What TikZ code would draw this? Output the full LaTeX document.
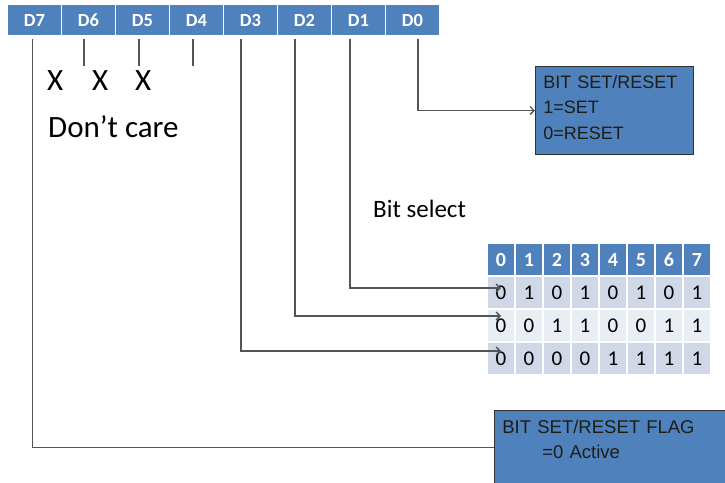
\documentclass[tikz,border=0pt]{standalone}
\usepackage{fontspec}
\setmainfont{Carlito}[Numbers=Lining]
\newfontfamily\boxfont{Liberation Sans}
\usepackage{xcolor}
\usetikzlibrary{positioning, arrows.meta, calc}

\definecolor{hdrblue}{HTML}{4F81BD}
\definecolor{rowdark}{HTML}{D0D8E8}
\definecolor{rowlight}{HTML}{E9EDF4}
\definecolor{wiregray}{HTML}{555555}
\definecolor{boxtext}{HTML}{1E1E14}

\begin{document}
\begin{tikzpicture}[x=1pt, y=-1pt,
    bitcell/.style={fill=hdrblue, draw=white, line width=1.5pt, minimum width=54pt, minimum height=32pt,
      inner sep=0pt, outer sep=0pt, text=white, text height=12pt, text depth=0pt,
      font=\fontsize{18.5}{20}\selectfont\bfseries},
    tcell/.style={draw=white, line width=1.5pt, minimum width=28pt, minimum height=33pt,
      inner sep=0pt, outer sep=0pt, text height=13.5pt, text depth=0pt, font=\fontsize{21}{22}\selectfont},
    infobox/.style={fill=hdrblue, draw=black!80, line width=0.8pt, align=left, inner xsep=8pt,
      text=boxtext, font=\boxfont\fontsize{18}{25.5}\selectfont, anchor=north west},
    wire/.style={draw=wiregray, line width=1.3pt},
    sig/.style={wire, -{Straight Barb[length=4pt, width=8pt]}},
    bigtxt/.style={inner sep=0pt, anchor=base west, font=\fontsize{31}{34}\selectfont}
  ]
  \clip (0,0) rectangle (725,482);

  % Control word bits
  \node[bitcell] (d7) at (34.5,20) {D7};
  \foreach \n/\p in {6/7, 5/6, 4/5, 3/4, 2/3, 1/2, 0/1} {
    \node[bitcell, right=0pt of d\p] (d\n) {D\n};
  }

  % Don't care ticks
  \foreach \n/\dx in {6/-4.5, 5/-3.5, 4/-3.5} {
    \draw[wire] ([xshift=\dx pt, yshift=-3pt]d\n.south) -- ++(0,27);
  }
  \node[bigtxt] (xa) at (47,90) {X};
  \node[bigtxt] (xb) at (92,90) {X};
  \node[bigtxt] (xc) at (135,90) {X};
  \node[bigtxt] (dontcare) at (48,137) {Don’t care};

  \node[inner sep=0pt, anchor=base west, font=\fontsize{25}{28}\selectfont] (bitsel) at (373,217) {Bit select};

  % Bit select table
  \foreach \c/\a/\b/\d in {0/0/0/0, 1/1/0/0, 2/0/1/0, 3/1/1/0, 4/0/0/1, 5/1/0/1, 6/0/1/1, 7/1/1/1} {
    \node[tcell, fill=hdrblue, text=white, font=\fontsize{20}{22}\selectfont\bfseries] (h\c) at (501+\c*28,259.5) {\c};
    \node[tcell, fill=rowdark] (ra\c) at (501+\c*28,292.5) {\a};
    \node[tcell, fill=rowlight] (rb\c) at (501+\c*28,325.5) {\b};
    \node[tcell, fill=rowdark] (rc\c) at (501+\c*28,358.5) {\d};
  }

  % Set/reset boxes
  \node[infobox, text width=142pt, inner ysep=8.6pt, text depth=58pt] (setbox) at (535,66)
    {BIT SET/RESET\\1=SET\\0=RESET};
  \node[infobox, text width=224pt, inner ysep=9.5pt, text depth=50pt, font=\boxfont\fontsize{18.5}{25}\selectfont] (flag) at (494,410)
    {BIT SET/RESET FLAG\\\hspace*{40pt}=0 Active};

  % Wires
  \draw[sig] ([xshift=5.5pt, yshift=-3pt]d0.south) |- (setbox.west);
  \draw[sig] ([xshift=-8.5pt, yshift=-3pt]d1.south) |- ([yshift=4.5pt]ra0.center);
  \draw[sig] ([xshift=-9.5pt, yshift=-3pt]d2.south) |- ([yshift=9.5pt]rb0.center);
  \draw[sig] ([xshift=-9.5pt, yshift=-3pt]d3.south) |- ([yshift=7.5pt]rc0.center);
  \draw[wire, line width=1pt] ([xshift=-2.5pt, yshift=-3pt]d7.south) |- ([yshift=4pt]flag.west);
\end{tikzpicture}
\end{document}
